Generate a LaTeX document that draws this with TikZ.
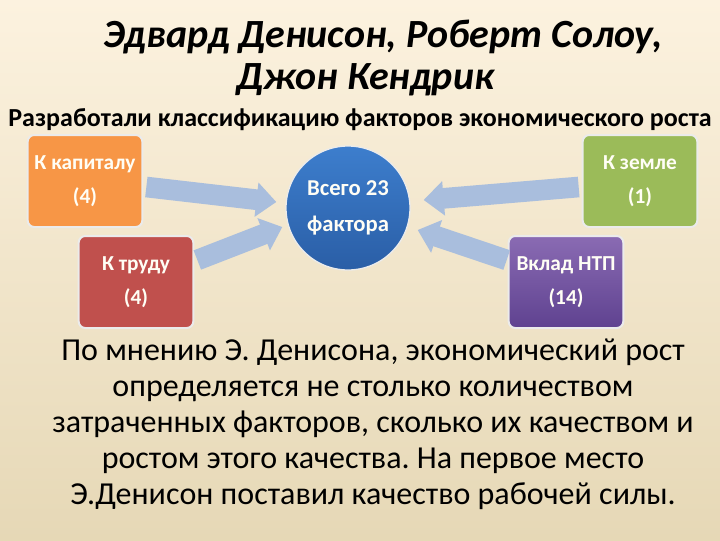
\documentclass[tikz,border=0pt]{standalone}
\usepackage{fontspec}
\setmainfont{Carlito}
\frenchspacing
\usetikzlibrary{arrows.meta,calc}

\definecolor{bgtop}{HTML}{FCF2DF}
\definecolor{bgbot}{HTML}{E6D8B6}
\definecolor{kapcol}{HTML}{F79646}
\definecolor{trudcol}{HTML}{C0504D}
\definecolor{zemcol}{HTML}{9BBB59}
\definecolor{ntptop}{HTML}{8A6BB3}
\definecolor{ntpbot}{HTML}{5F4290}
\definecolor{circtop}{HTML}{3D7ECD}
\definecolor{circbot}{HTML}{2A5EA6}
\definecolor{arrcol}{HTML}{A9BEDD}

\tikzset{
  factor/.style={rounded corners=5pt, draw=white!92!black, line width=1.5pt,
    minimum width=86pt, minimum height=69pt, align=center, text=white!96!yellow,
    font=\bfseries\fontsize{16}{25.5}\selectfont},
  flow/.style={draw=arrcol, line width=15.5pt,
    -{Triangle[length=15pt,width=25pt]}},
}

\begin{document}
\begin{tikzpicture}[x=0.75pt, y=-0.75pt]
    % фон
    \useasboundingbox (0,0) rectangle (720,540);
    \shade[top color=bgtop, bottom color=bgbot] (0,0) rectangle (720,540);

    % заголовок
    \node[font=\bfseries\itshape\fontsize{30}{32}\selectfont] (title1) at (383,37) {Эдвард Денисон, Роберт Солоу,};
    \node[font=\bfseries\itshape\fontsize{30}{32}\selectfont] (title2) at (365,80) {Джон Кендрик};
    \node[font=\bfseries\fontsize{19.5}{22}\selectfont] (sub) at (360,120) {Разработали классификацию факторов экономического роста};

    % факторы
    \node[factor, fill=kapcol] (kap) at (85,181) {К капиталу\\(4)};
    \node[factor, fill=trudcol] (trud) at (136,282) {К труду\\(4)};
    \node[factor, fill=zemcol] (zem) at (640,181) {К земле\\(1)};
    \node[factor, top color=ntptop, bottom color=ntpbot] (ntp) at (566,282) {Вклад НТП\\(14)};

    % всего
    \node[circle, draw=white!92!black, line width=1pt, minimum size=93pt, inner sep=0pt,
      top color=circtop, bottom color=circbot, align=center, text=white!96!yellow,
      font=\bfseries\fontsize{17}{27.5}\selectfont] (total) at (348,208) {Всего 23\\фактора};

    % стрелки
    \draw[flow] ($(kap.east)+(3,6)$) -- ($(total.west)+(-9,-6)$);
    \draw[flow] ($(trud.east)+(3,-22)$) -- ($(total.west)+(-3,19)$);
    \draw[flow] ($(zem.west)+(-3,6)$) -- ($(total.east)+(13,-8)$);
    \draw[flow] ($(ntp.west)+(-1,-22)$) -- ($(total.east)+(7,22)$);

    % текст внизу
    \node[align=center, font=\fontsize{24}{27}\selectfont] (note) at (373,424) {По мнению Э. Денисона, экономический рост\\определяется не столько количеством\\затраченных факторов, сколько их качеством и\\ростом этого качества. На первое место\\Э.Денисон поставил качество рабочей силы.};
\end{tikzpicture}
\end{document}
